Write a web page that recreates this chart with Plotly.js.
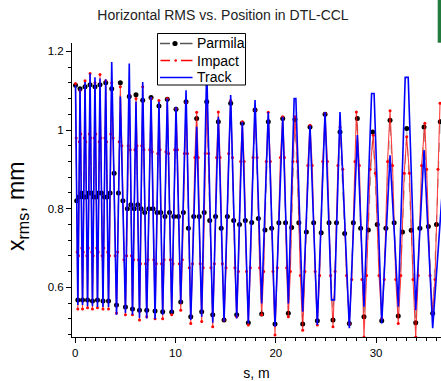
<!DOCTYPE html>
<html>
<head>
<meta charset="utf-8">
<script src="https://cdn.plot.ly/plotly-3.0.1.min.js"></script>
<style>html,body{margin:0;padding:0;background:#fff;}#chart{width:441px;height:381px;}</style>
</head>
<body>
<div id="chart"></div>
<script>
// ---- Data (s in m, x_rms in mm) ----
// Track: alternating envelope maxima / minima
var track_s = [0.03,0.26,0.48,0.73,0.98,1.23,1.48,1.72,1.97,2.22,2.47,2.77,3.04,3.32,3.64,4.12,4.50,5.01,5.39,5.71,
  6.06,6.41,6.73,7.13,7.56,7.96,8.35,8.72,9.18,9.62,10.05,10.52,11.05,11.52,12.11,12.61,13.11,13.71,14.27,14.84,
  15.50,16.10,16.66,17.26,17.93,18.59,19.25,19.92,20.69,21.25,21.83,22.0,22.68,23.41,24.14,24.91,25.55,25.85,26.40,27.33,
  28.13,28.79,29.55,29.8,30.56,31.39,32.21,32.9,33.2,33.95,34.78,35.64,37.3];
var track_x = [1.114,0.555,1.106,0.555,1.122,0.552,1.144,0.552,1.134,0.55,1.131,0.55,1.129,0.55,1.173,0.53,1.085,0.535,1.169,0.53,
  1.072,0.522,1.122,0.521,1.084,0.519,1.072,0.530,1.080,0.534,1.059,0.559,1.101,0.517,1.008,0.525,1.160,0.510,1.034,0.513,
  1.089,0.521,1.021,0.508,1.076,0.559,1.046,0.500,1.034,0.559,1.080,1.080,0.538,1.012,0.504,1.046,0.568,0.568,1.046,0.496,
  0.987,0.551,1.093,1.093,0.508,0.936,0.551,1.134,1.134,0.542,0.949,0.496,1.10];

// Parmila: max, mid, min, mid per period
var parmila_s = [0.03,0.145,0.26,0.37, 0.48,0.605,0.73,0.855, 0.98,1.105,1.23,1.355, 1.48,1.60,1.72,1.845,
  1.97,2.095,2.22,2.345, 2.47,2.62,2.77,2.905, 3.04,3.18,3.32,3.48, 3.64,3.88,4.12,4.31,
  4.50,4.755,5.01,5.20, 5.39,5.55,5.71,5.885, 6.06,6.235,6.41,6.57, 6.73,6.93,7.13,7.345,
  7.56,7.76,7.96,8.155, 8.35,8.535,8.72,8.95, 9.18,9.40,9.62,9.835, 10.05,10.285,10.52,10.785,
  11.05,11.285,11.52,11.815, 12.11,12.36,12.61,12.86, 13.11,13.41,13.71,13.99, 14.27,14.555,14.84,15.17,
  15.50,15.80,16.10,16.38, 16.66,16.96,17.26,17.595, 17.93,18.26,18.59,18.92, 19.25,19.585,19.92,20.305,
  20.69,20.97,21.25,21.58, 21.91,22.295,22.68,23.045, 23.41,23.775,24.14,24.525, 24.91,25.305,25.70,26.05,
  26.40,26.865,27.33,27.73, 28.13,28.46,28.79,29.225, 29.66,30.11,30.56,30.975, 31.39,31.80,32.21,32.63,
  33.05,33.50,33.95,34.365, 34.78,35.21,35.64,36.02, 36.40];
var parmila_x = [1.114,0.82,0.568,0.83, 1.105,0.84,0.568,0.83, 1.11,0.83,0.568,0.84, 1.115,0.84,0.565,0.83,
  1.11,0.83,0.568,0.84, 1.115,0.84,0.565,0.83, 1.12,0.83,0.565,0.84, 1.105,0.89,0.555,0.84,
  1.12,0.82,0.55,0.80, 1.085,0.81,0.545,0.80, 1.09,0.81,0.542,0.80, 1.076,0.79,0.542,0.80,
  1.083,0.80,0.54,0.79, 1.061,0.79,0.538,0.78, 1.078,0.79,0.537,0.78, 1.053,0.78,0.563,0.79,
  1.072,0.75,0.525,0.78, 1.029,0.78,0.538,0.79, 1.072,0.77,0.530,0.78, 1.021,0.75,0.517,0.78,
  1.068,0.77,0.530,0.76, 1.017,0.77,0.510,0.765, 1.051,0.775,0.532,0.746, 1.021,0.75,0.507,0.764,
  1.029,0.764,0.534,0.752, 1.027,0.764,0.507,0.741, 1.008,0.764,0.515,0.739, 1.040,0.764,0.517,0.764,
  0.995,0.737,0.508,0.764, 1.029,0.75,0.525,0.746, 0.995,0.76,0.515,0.75, 1.025,0.764,0.527,0.741,
  1.004,0.745,0.510,0.75, 1.008,0.755,0.534,0.76, 1.021];

// Impact: max, upper flank, lower flank, min, lower flank, upper flank per period
var impact_s = [0.03,0.10,0.19,0.26,0.33,0.41, 0.48,0.555,0.655,0.73,0.805,0.905, 0.98,1.055,1.155,1.23,1.305,1.405,
  1.48,1.55,1.65,1.72,1.795,1.895, 1.97,2.045,2.145,2.22,2.295,2.395, 2.47,2.56,2.68,2.77,2.85,2.96,
  3.04,3.12,3.24,3.32,3.42,3.54, 3.64,3.78,3.98,4.12,4.23,4.39, 4.50,4.65,4.86,5.01,5.12,5.28,
  5.39,5.49,5.61,5.71,5.82,5.95, 6.06,6.16,6.31,6.41,6.51,6.63, 6.73,6.85,7.01,7.13,7.26,7.43,
  7.56,7.68,7.84,7.96,8.08,8.23, 8.35,8.46,8.61,8.72,8.86,9.04, 9.18,9.31,9.49,9.62,9.75,9.92,
  10.05,10.19,10.38,10.52,10.68,10.89, 11.05,11.19,11.38,11.52,11.70,11.93, 12.11,12.26,12.46,12.61,12.76,12.96,
  13.11,13.29,13.53,13.71,13.88,14.10, 14.27,14.44,14.67,14.84,15.04,15.30, 15.50,15.68,15.92,16.10,16.27,16.49,
  16.66,16.84,17.08,17.26,17.46,17.73, 17.93,18.13,18.39,18.59,18.79,19.05, 19.25,19.45,19.72,19.92,20.15,20.46,
  20.69,20.86,21.08,21.25,21.45,21.71, 21.91,22.14,22.45,22.68,22.90,23.19, 23.41,23.63,23.92,24.14,24.37,24.68,
  24.91,25.15,25.46,25.70,25.91,26.19, 26.40,26.68,27.05,27.33,27.57,27.89, 28.03,28.33,28.59,28.79,29.05,29.40,
  29.72,29.93,30.29,30.56,30.81,31.14, 31.39,31.64,31.96,32.21,32.46,32.80, 33.05,33.32,33.68,33.95,34.20,34.53,
  34.86,35.04,35.38,35.64,35.87,36.17, 36.37];
var impact_x = [1.118,0.98,0.69,0.545,0.68,0.97, 1.10,0.99,0.70,0.545,0.69,0.98, 1.125,0.97,0.68,0.548,0.70,0.99,
  1.144,0.98,0.69,0.545,0.68,0.98, 1.12,0.99,0.70,0.548,0.69,0.97, 1.141,0.98,0.68,0.545,0.70,0.98,
  1.125,0.97,0.69,0.545,0.68,0.99, 1.12,0.98,0.68,0.535,0.69,0.97, 1.11,0.96,0.67,0.53,0.68,0.96,
  1.09,0.95,0.68,0.53,0.67,0.95, 1.08,0.96,0.67,0.517,0.66,0.96, 1.11,0.95,0.66,0.525,0.67,0.95,
  1.08,0.945,0.67,0.52,0.66,0.94, 1.075,0.95,0.66,0.52,0.67,0.945, 1.08,0.94,0.67,0.53,0.66,0.95,
  1.055,0.95,0.66,0.542,0.67,0.94, 1.07,0.94,0.65,0.508,0.66,0.93, 1.045,0.93,0.66,0.513,0.65,0.94,
  1.063,0.94,0.65,0.50,0.66,0.93, 1.046,0.93,0.66,0.517,0.65,0.94, 1.075,0.93,0.65,0.525,0.64,0.92,
  1.021,0.92,0.64,0.504,0.65,0.93, 1.05,0.93,0.65,0.53,0.64,0.92, 1.045,0.92,0.64,0.479,0.65,0.93,
  1.034,0.93,0.65,0.525,0.64,0.92, 1.034,0.92,0.63,0.491,0.64,0.91, 1.012,0.91,0.64,0.504,0.63,0.92,
  1.042,0.92,0.63,0.50,0.64,0.91, 1.008,0.90,0.63,0.508,0.62,0.92, 1.046,0.91,0.62,0.474,0.63,0.90,
  0.987,0.89,0.63,0.521,0.62,0.92, 1.049,0.91,0.62,0.508,0.63,0.89, 0.983,0.89,0.62,0.474,0.63,0.91,
  1.017,0.90,0.63,0.534,0.62,0.90, 1.068];

var series_names = ["Parmila", "Impact", "Track"];
var chart_title = "Horizontal RMS vs. Position in DTL-CCL";
var x_title = "s, m";
var y_title = "x<sub>rms</sub>, mm";

var FONT = "Arial, 'Liberation Sans', sans-serif";

var traces = [
  {x: parmila_s, y: parmila_x, type: "scatter", mode: "lines+markers", name: series_names[0],
   line: {color: "rgba(0,0,0,0.5)", width: 0.7, dash: "dash"},
   marker: {color: "#000", size: 5, symbol: "circle"}},
  {x: impact_s, y: impact_x, type: "scatter", mode: "lines+markers", name: series_names[1],
   line: {color: "rgba(255,0,0,0.75)", width: 1.1},
   marker: {color: "#ff0000", size: 3, symbol: "circle"}},
  {x: track_s, y: track_x, type: "scatter", mode: "lines", name: series_names[2],
   line: {color: "#0000ff", width: 1.6}}
];

var plotL = 72, plotR = 441, plotT = 43, plotB = 337;
var W = plotR - plotL, H = plotB - plotT;
function px2paperX(p){ return (p - plotL) / W; }
function px2paperY(p){ return (plotB - p) / H; }
function seg(x0, x1, y, color, width, dash){
  return {type: "line", xref: "paper", yref: "paper", x0: px2paperX(x0), x1: px2paperX(x1),
          y0: px2paperY(y), y1: px2paperY(y), line: {color: color, width: width, dash: dash || "solid"}, layer: "above"};
}
function dot(cx, cy, r, color){
  return {type: "circle", xref: "paper", yref: "paper", x0: px2paperX(cx - r), x1: px2paperX(cx + r),
          y0: px2paperY(cy + r), y1: px2paperY(cy - r), fillcolor: color, line: {width: 0}, layer: "above"};
}

// legend box drawn by hand (rows are tighter than Plotly's legend allows)
var legRows = [43.5, 60.5, 77.5];
var shapes = [
  {type: "rect", xref: "paper", yref: "paper", x0: px2paperX(157.5), x1: px2paperX(245.5),
   y0: px2paperY(85), y1: px2paperY(33.5), fillcolor: "#fff", line: {color: "#000", width: 1}, layer: "above"},
  seg(160, 170, legRows[0], "#555", 1.5), seg(180, 192.5, legRows[0], "#555", 1.5), dot(175, legRows[0], 2.6, "#000"),
  seg(160.5, 170, legRows[1], "#ff0000", 1.5), seg(181, 192.5, legRows[1], "#ff0000", 1.5), dot(175.7, legRows[1], 1.3, "#ff0000"),
  seg(160, 192.5, legRows[2], "#0000ff", 1.5),
  {type: "rect", xref: "paper", yref: "paper", x0: px2paperX(437.7), x1: px2paperX(441.5),
   y0: px2paperY(42.7), y1: px2paperY(-1), fillcolor: "rgb(34,122,62)", line: {width: 0}, layer: "above"}
];
var annotations = [
  {text: y_title, xref: "paper", yref: "paper", x: px2paperX(17), y: px2paperY(207),
   xanchor: "center", yanchor: "middle", textangle: -90, showarrow: false,
   font: {family: FONT, size: 23, color: "#000"}}
];
for (var i = 0; i < series_names.length; i++) {
  annotations.push({text: series_names[i], xref: "paper", yref: "paper", x: px2paperX(195), y: px2paperY(legRows[i]),
    xanchor: "left", yanchor: "middle", showarrow: false, font: {family: FONT, size: 14, color: "#000"}});
}

var layout = {
  width: 441, height: 381,
  margin: {l: plotL, r: 441 - plotR, t: plotT, b: 381 - plotB, pad: 0},
  paper_bgcolor: "#fff", plot_bgcolor: "#fff",
  font: {family: FONT, color: "#000", size: 11},
  title: {text: chart_title, font: {family: FONT, size: 14, color: "#222"},
          x: 223/441, xref: "container", xanchor: "center",
          y: 1 - 15.5/381, yref: "container", yanchor: "middle"},
  showlegend: false,
  xaxis: {range: [-0.32, 36.47], showline: true, linecolor: "#000", linewidth: 1,
          ticks: "outside", ticklen: 5, tickwidth: 1, tickcolor: "#000",
          tick0: 0, dtick: 10, showgrid: false, zeroline: false,
          tickfont: {family: FONT, size: 11.5, color: "#000"},
          minor: {dtick: 1, tick0: 0, ticks: "outside", ticklen: 3, tickcolor: "#000", showgrid: false},
          title: {text: x_title, font: {family: FONT, size: 14, color: "#000"}, standoff: 15}},
  yaxis: {range: [0.4737, 1.2213], showline: true, linecolor: "#000", linewidth: 1,
          ticks: "outside", ticklen: 5, tickwidth: 1, tickcolor: "#000",
          tick0: 0, dtick: 0.2, showgrid: false, zeroline: false,
          tickfont: {family: FONT, size: 11.5, color: "#000"},
          minor: {dtick: 0.04, tick0: 0, ticks: "outside", ticklen: 3, tickcolor: "#000", showgrid: false}},
  annotations: annotations,
  shapes: shapes
};

Plotly.newPlot("chart", traces, layout, {staticPlot: true, displayModeBar: false});
</script>
</body>
</html>
